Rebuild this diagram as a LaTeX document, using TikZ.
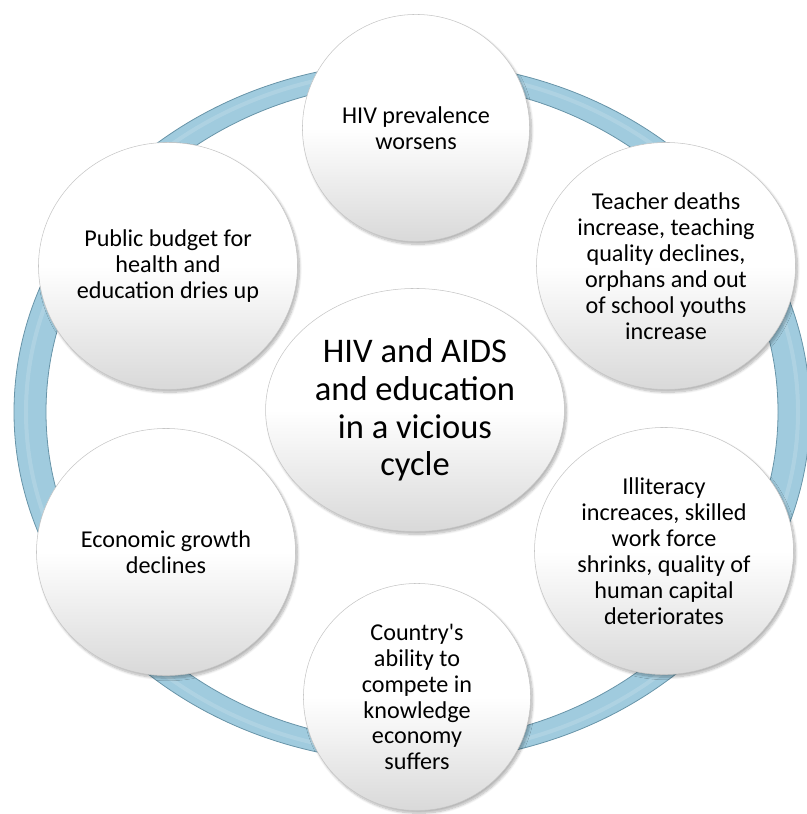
\documentclass[tikz,border=0pt]{standalone}
\usepackage{fontspec}
\setmainfont{Carlito}
\usetikzlibrary{shapes.geometric,shadows.blur}
\definecolor{ringblue}{RGB}{160,203,222}
\definecolor{ringedge}{RGB}{104,148,168}
\tikzset{
  bubble/.style={ellipse, draw=gray!45, line width=0.4pt, inner sep=0pt, align=center,
    top color=white, bottom color=gray!30, middle color=white,
    blur shadow={shadow xshift=1.5pt, shadow yshift=-2pt, shadow opacity=30, shadow blur steps=8},
    font=\fontsize{18.2}{19.5}\selectfont},
  roundbubble/.style={bubble, minimum width=171pt, minimum height=171pt},
  sidebubble/.style={bubble, minimum width=195pt, minimum height=186pt},
  hub/.style={bubble, minimum width=225pt, minimum height=183pt,
    font=\fontsize{26}{28.5}\selectfont}
}

\begin{document}
\begin{tikzpicture}[x=0.2646cm, y=-0.2646cm]
  \useasboundingbox (0,0) rectangle (80.6,81.4);
  \fill[ringblue, even odd rule] (41.2,41.2) ellipse [x radius=39.8, y radius=35]
    (41.2,41.2) ellipse [x radius=36.6, y radius=33];
  \draw[white, opacity=0.15, line width=3pt] (41.2,41.2) ellipse [x radius=38.6, y radius=34.2];
  \draw[ringedge, line width=0.6pt] (41.2,41.2) ellipse [x radius=39.8, y radius=35];
  \draw[ringedge, line width=0.6pt] (41.2,41.2) ellipse [x radius=36.6, y radius=33];

  \node[roundbubble] (prevalence) at (41.6,12.8) {HIV prevalence\\worsens};
  \node[sidebubble] (teachers) at (66.6,26.6) {Teacher deaths\\increase, teaching\\quality declines,\\orphans and out\\of school youths\\increase};
  \node[sidebubble] (illiteracy) at (66.4,55.1) {Illiteracy\\increaces, skilled\\work force\\shrinks, quality of\\human capital\\deteriorates};
  \node[roundbubble] (economy) at (41.7,69.7) {Country\textquotesingle s\\ability to\\compete in\\knowledge\\economy\\suffers};
  \node[sidebubble] (growth) at (16.6,55.2) {Economic growth\\declines};
  \node[sidebubble] (budget) at (16.8,26.6) {Public budget for\\health and\\education dries up};
  \node[hub] (cycle) at (41.5,41.0) {HIV and AIDS\\and education\\in a vicious\\cycle};
\end{tikzpicture}
\end{document}
